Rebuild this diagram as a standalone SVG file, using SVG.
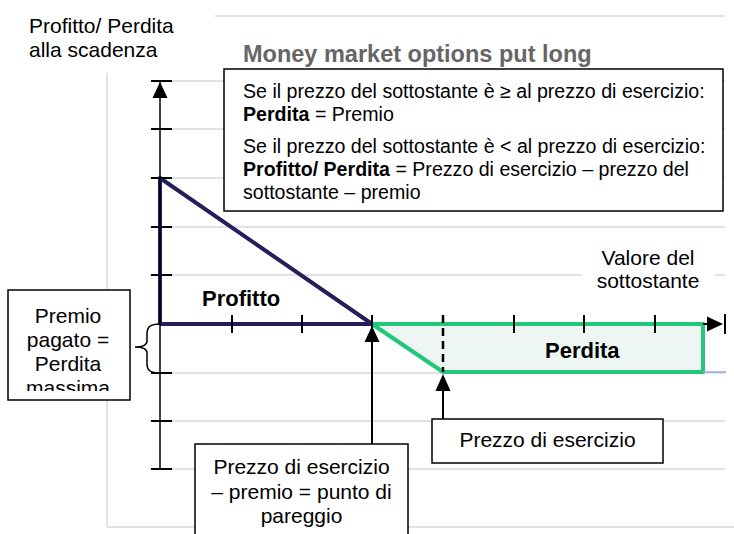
<svg xmlns="http://www.w3.org/2000/svg" width="734" height="534" viewBox="0 0 734 534">
<style>
text{font-family:"Liberation Sans",Arial,sans-serif;fill:#000}
.grid{stroke:#d9d9d9;stroke-width:1.5;fill:none}
.tick{stroke:#000;stroke-width:2}
.box{fill:#fff;stroke:#000;stroke-width:1.5}
.lbl{font-size:21px}
.info{font-size:19.6px}
.b{font-weight:bold}
.head{fill:#000}
</style>
<defs>
<clipPath id="clipPremio"><rect x="8" y="291" width="122" height="100"/></clipPath>
</defs>
<rect width="734" height="534" fill="#fff"/>
<g id="grid">
<line class="grid" x1="215" y1="16" x2="725" y2="16"/>
<line class="grid" x1="107" y1="73" x2="107" y2="527"/>
<line class="grid" x1="107" y1="527" x2="734" y2="527"/>
<line class="grid" x1="160" y1="81" x2="725" y2="81"/>
<line class="grid" x1="160" y1="129" x2="725" y2="129"/>
<line class="grid" x1="160" y1="178" x2="725" y2="178"/>
<line class="grid" x1="160" y1="227" x2="725" y2="227"/>
<line class="grid" x1="160" y1="275" x2="725" y2="275"/>
<line class="grid" x1="160" y1="373" x2="725" y2="373"/>
<line class="grid" x1="160" y1="421" x2="725" y2="421"/>
<line class="grid" x1="160" y1="469" x2="725" y2="469"/>
</g>
<g id="chart">
<polygon points="372,324 443,372 703,372 703,324" fill="#eef6f3" stroke="#22c77b" stroke-width="4" stroke-linejoin="round"/>
<line x1="703" y1="372" x2="726" y2="372" stroke="#8eaadb" stroke-width="1.5"/>
<polyline points="160,324 160,178 372,324" fill="none" stroke="#231f5c" stroke-width="4" stroke-linejoin="round"/>
<line x1="160" y1="324" x2="372" y2="324" stroke="#231f5c" stroke-width="4"/>
<line x1="703" y1="324" x2="710" y2="324" stroke="#000" stroke-width="2"/>
<line x1="160" y1="81" x2="160" y2="469" stroke="#000" stroke-width="1.5"/>
<g class="tick">
<line x1="151" y1="81" x2="172" y2="81"/>
<line x1="151" y1="129" x2="172" y2="129"/>
<line x1="151" y1="178" x2="172" y2="178"/>
<line x1="151" y1="227" x2="172" y2="227"/>
<line x1="151" y1="275" x2="172" y2="275"/>
<line x1="151" y1="373" x2="172" y2="373"/>
<line x1="151" y1="421" x2="172" y2="421"/>
<line x1="151" y1="469" x2="172" y2="469"/>
<line x1="232" y1="315" x2="232" y2="333"/>
<line x1="302" y1="315" x2="302" y2="333"/>
<line x1="372" y1="315" x2="372" y2="333"/>
<line x1="514" y1="315" x2="514" y2="333"/>
<line x1="584" y1="315" x2="584" y2="333"/>
<line x1="655" y1="315" x2="655" y2="333"/>
<line x1="725" y1="314" x2="725" y2="334"/>
</g>
<line x1="443" y1="315" x2="443" y2="372" stroke="#000" stroke-width="2.5" stroke-dasharray="8,5"/>
<polygon class="head" points="160,82 152.5,98 167.5,98"/>
<polygon class="head" points="723,324 707,316.5 707,331.5"/>
<path d="M160,324 C150,324 147,327 147,334 L147,341 C147,345 143,347 135,347 C143,347 147,349 147,353 L147,364 C147,370 150,373 160,373" fill="none" stroke="#000" stroke-width="1.5"/>
<text x="202" y="306" class="b" font-size="22">Profitto</text>
<text x="545" y="358" class="b" font-size="22">Perdita</text>
</g>
<g id="axis-labels">
<text class="lbl" x="29" y="33">Profitto/ Perdita</text>
<text class="lbl" x="29" y="57">alla scadenza</text>
<text x="243" y="62" class="b" font-size="23.5" style="fill:#666">Money market options put long</text>
<rect x="582" y="242" width="133" height="55" fill="#fff"/>
<text class="lbl" x="648" y="265" text-anchor="middle">Valore del</text>
<text class="lbl" x="648" y="288" text-anchor="middle">sottostante</text>
</g>
<g id="connectors">
<line x1="372" y1="444" x2="372" y2="340" stroke="#000" stroke-width="2"/>
<polygon class="head" points="372,326 364.5,342 379.5,342"/>
<line x1="443" y1="419" x2="443" y2="389" stroke="#000" stroke-width="2"/>
<polygon class="head" points="443,374 435.5,391 450.5,391"/>
</g>
<g id="node-info">
<rect class="box" x="224" y="69" width="499" height="142"/>
<text class="info" x="243" y="98">Se il prezzo del sottostante è ≥ al prezzo di esercizio:</text>
<text class="info" x="243" y="121"><tspan class="b">Perdita</tspan> = Premio</text>
<text class="info" x="243" y="153">Se il prezzo del sottostante è &lt; al prezzo di esercizio:</text>
<text class="info" x="243" y="176"><tspan class="b">Profitto/ Perdita</tspan> = Prezzo di esercizio – prezzo del</text>
<text class="info" x="243" y="199">sottostante – premio</text>
</g>
<g id="node-premio">
<rect class="box" x="8" y="290" width="122" height="110"/>
<g clip-path="url(#clipPremio)">
<text class="lbl" x="68" y="323" text-anchor="middle">Premio</text>
<text class="lbl" x="68" y="347" text-anchor="middle">pagato =</text>
<text class="lbl" x="68" y="371" text-anchor="middle">Perdita</text>
<text class="lbl" x="68" y="395" text-anchor="middle">massima</text>
</g>
</g>
<g id="node-pareggio">
<rect class="box" x="195" y="444" width="213" height="100"/>
<text class="lbl" x="301.5" y="474" text-anchor="middle">Prezzo di esercizio</text>
<text class="lbl" x="301.5" y="499" text-anchor="middle">– premio = punto di</text>
<text class="lbl" x="301.5" y="523" text-anchor="middle">pareggio</text>
</g>
<g id="node-esercizio">
<rect class="box" x="432" y="419" width="231" height="44"/>
<text class="lbl" x="547.5" y="447" text-anchor="middle">Prezzo di esercizio</text>
</g>
</svg>
